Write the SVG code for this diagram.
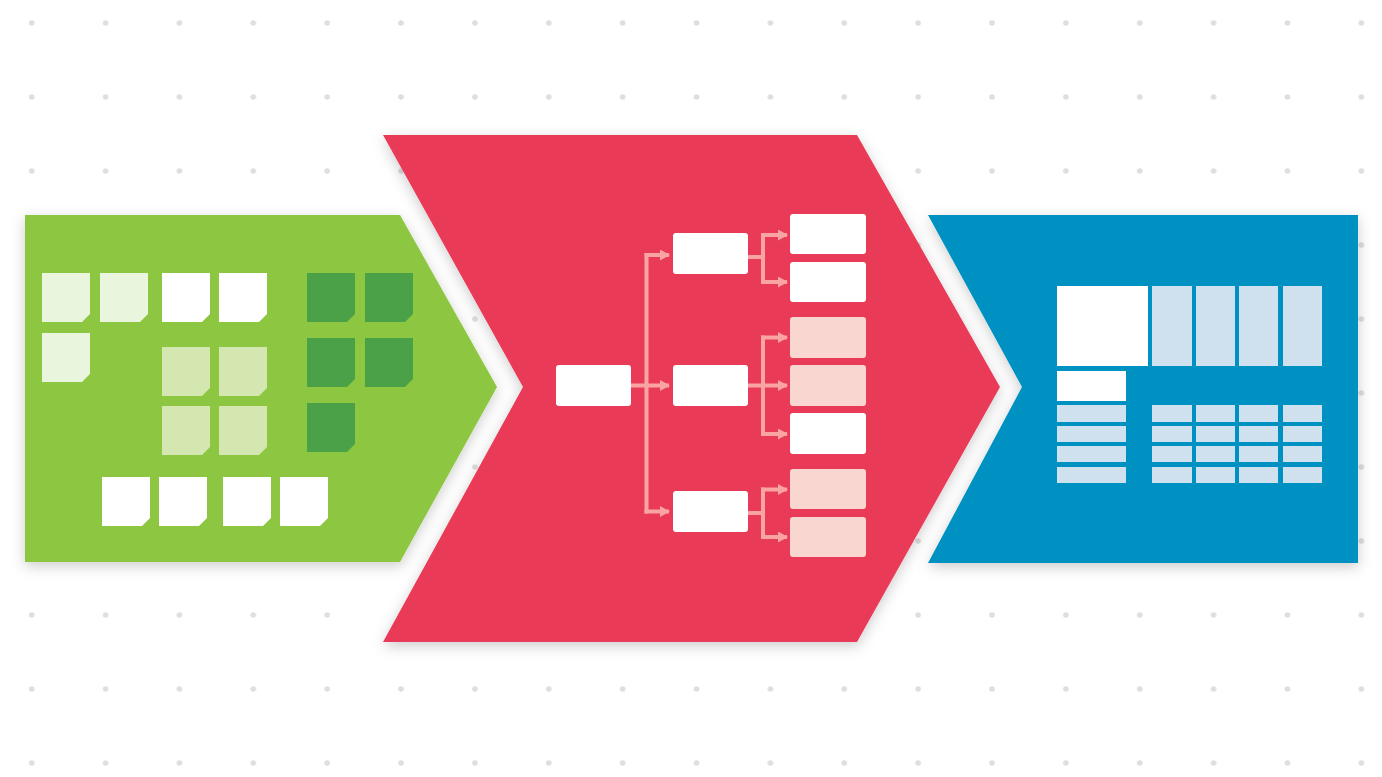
<svg xmlns="http://www.w3.org/2000/svg" width="1382" height="777" viewBox="0 0 1382 777">
<defs>
  <pattern id="dots" patternUnits="userSpaceOnUse" x="-5.23" y="-14" width="73.87" height="74">
    <circle cx="36.93" cy="37" r="2.8" fill="#dedede"/>
  </pattern>
  <filter id="shadow" x="-10%" y="-10%" width="120%" height="125%">
    <feDropShadow dx="0" dy="4" stdDeviation="7" flood-color="#000" flood-opacity="0.2"/>
  </filter>
  <marker id="arr" viewBox="0 0 10 11" refX="9" refY="5.5" markerWidth="10" markerHeight="11" markerUnits="userSpaceOnUse" orient="auto">
    <path d="M0,0 L10,5.5 L0,11 Z" fill="#f9a3a3"/>
  </marker>
  <path id="note" d="M0,0 H48 V41 L40,49 H0 Z"/>
</defs>
<style>
  .wl{fill:#e9f5dc}
  .wh{fill:#ffffff}
  .ml{fill:#d4e7b1}
  .dk{fill:#4ba147}
  .box{fill:#ffffff}
  .pk{fill:#fad6d1}
  .lb{fill:#cfe1ef}
  .wt{fill:#ffffff}
  .conn{fill:none;stroke:#f9a3a3;stroke-width:4}
</style>
<rect width="1382" height="777" fill="#ffffff"/>
<rect width="1382" height="777" fill="url(#dots)"/>

<g id="stage-green">
  <path d="M25,215 L400,215 L497,387 L400,562 L25,562 Z" fill="#8dc63f" filter="url(#shadow)"/>
  <g id="notes">
    <use href="#note" class="wl" x="42" y="273"/>
    <use href="#note" class="wl" x="100" y="273"/>
    <use href="#note" class="wh" x="162" y="273"/>
    <use href="#note" class="wh" x="219" y="273"/>
    <use href="#note" class="wl" x="42" y="333"/>
    <use href="#note" class="ml" x="162" y="347"/>
    <use href="#note" class="ml" x="219" y="347"/>
    <use href="#note" class="ml" x="162" y="406"/>
    <use href="#note" class="ml" x="219" y="406"/>
    <use href="#note" class="dk" x="307" y="273"/>
    <use href="#note" class="dk" x="365" y="273"/>
    <use href="#note" class="dk" x="307" y="338"/>
    <use href="#note" class="dk" x="365" y="338"/>
    <use href="#note" class="dk" x="307" y="403"/>
    <use href="#note" class="wh" x="102" y="477"/>
    <use href="#note" class="wh" x="159" y="477"/>
    <use href="#note" class="wh" x="223" y="477"/>
    <use href="#note" class="wh" x="280" y="477"/>
  </g>
</g>

<g id="stage-red">
  <path d="M383,135 L857,135 L1000,387 L857,642 L383,642 L523,387 Z" fill="#e93a58" filter="url(#shadow)"/>
</g>

<g id="stage-blue">
  <path d="M928,215 L1358,215 L1358,563 L928,563 L1022,387 Z" fill="#0391c3" filter="url(#shadow)"/>
</g>

<g id="connectors">
  <line class="conn" x1="631" y1="385.5" x2="669" y2="385.5" marker-end="url(#arr)"/>
  <path class="conn" d="M646.5,253 V513.5"/>
  <line class="conn" x1="644.5" y1="255" x2="669" y2="255" marker-end="url(#arr)"/>
  <line class="conn" x1="644.5" y1="511.5" x2="669" y2="511.5" marker-end="url(#arr)"/>
  <line class="conn" x1="748" y1="257" x2="763" y2="257"/>
  <path class="conn" d="M763,233 V284"/>
  <line class="conn" x1="761" y1="235" x2="787" y2="235" marker-end="url(#arr)"/>
  <line class="conn" x1="761" y1="282" x2="787" y2="282" marker-end="url(#arr)"/>
  <line class="conn" x1="748" y1="385.5" x2="787" y2="385.5" marker-end="url(#arr)"/>
  <path class="conn" d="M763,335.5 V436"/>
  <line class="conn" x1="761" y1="337.5" x2="787" y2="337.5" marker-end="url(#arr)"/>
  <line class="conn" x1="761" y1="434" x2="787" y2="434" marker-end="url(#arr)"/>
  <line class="conn" x1="748" y1="513" x2="763" y2="513"/>
  <path class="conn" d="M763,487.5 V539"/>
  <line class="conn" x1="761" y1="489.5" x2="787" y2="489.5" marker-end="url(#arr)"/>
  <line class="conn" x1="761" y1="537" x2="787" y2="537" marker-end="url(#arr)"/>
</g>

<g id="tree-root"><rect class="box" x="556" y="365" width="75" height="41" rx="3"/></g>
<g id="tree-b1"><rect class="box" x="673" y="233" width="75" height="41" rx="3"/></g>
<g id="tree-b2"><rect class="box" x="673" y="365" width="75" height="41" rx="3"/></g>
<g id="tree-b3"><rect class="box" x="673" y="491" width="75" height="41" rx="3"/></g>
<g id="tree-l1"><rect class="box" x="790" y="214" width="76" height="40" rx="3"/></g>
<g id="tree-l2"><rect class="box" x="790" y="262" width="76" height="40" rx="3"/></g>
<g id="tree-l3"><rect class="pk" x="790" y="317" width="76" height="41" rx="3"/></g>
<g id="tree-l4"><rect class="pk" x="790" y="365" width="76" height="41" rx="3"/></g>
<g id="tree-l5"><rect class="box" x="790" y="413" width="76" height="41" rx="3"/></g>
<g id="tree-l6"><rect class="pk" x="790" y="469" width="76" height="40" rx="3"/></g>
<g id="tree-l7"><rect class="pk" x="790" y="517" width="76" height="40" rx="3"/></g>

<g id="table">
  <rect class="wt" x="1057" y="286" width="91" height="80"/>
  <rect class="lb" x="1152" y="286" width="40" height="80"/>
  <rect class="lb" x="1196" y="286" width="39" height="80"/>
  <rect class="lb" x="1239" y="286" width="39" height="80"/>
  <rect class="lb" x="1283" y="286" width="39" height="80"/>
  <rect class="wt" x="1057" y="371" width="69" height="30"/>
  <rect class="lb" x="1057" y="405" width="69" height="17"/>
  <rect class="lb" x="1057" y="426" width="69" height="16"/>
  <rect class="lb" x="1057" y="446" width="69" height="16"/>
  <rect class="lb" x="1057" y="467" width="69" height="16"/>
  <g id="grid">
    <rect class="lb" x="1152" y="405" width="40" height="17"/>
    <rect class="lb" x="1196" y="405" width="39" height="17"/>
    <rect class="lb" x="1239" y="405" width="39" height="17"/>
    <rect class="lb" x="1283" y="405" width="39" height="17"/>
    <rect class="lb" x="1152" y="426" width="40" height="16"/>
    <rect class="lb" x="1196" y="426" width="39" height="16"/>
    <rect class="lb" x="1239" y="426" width="39" height="16"/>
    <rect class="lb" x="1283" y="426" width="39" height="16"/>
    <rect class="lb" x="1152" y="446" width="40" height="16"/>
    <rect class="lb" x="1196" y="446" width="39" height="16"/>
    <rect class="lb" x="1239" y="446" width="39" height="16"/>
    <rect class="lb" x="1283" y="446" width="39" height="16"/>
    <rect class="lb" x="1152" y="467" width="40" height="16"/>
    <rect class="lb" x="1196" y="467" width="39" height="16"/>
    <rect class="lb" x="1239" y="467" width="39" height="16"/>
    <rect class="lb" x="1283" y="467" width="39" height="16"/>
  </g>
</g>
</svg>
